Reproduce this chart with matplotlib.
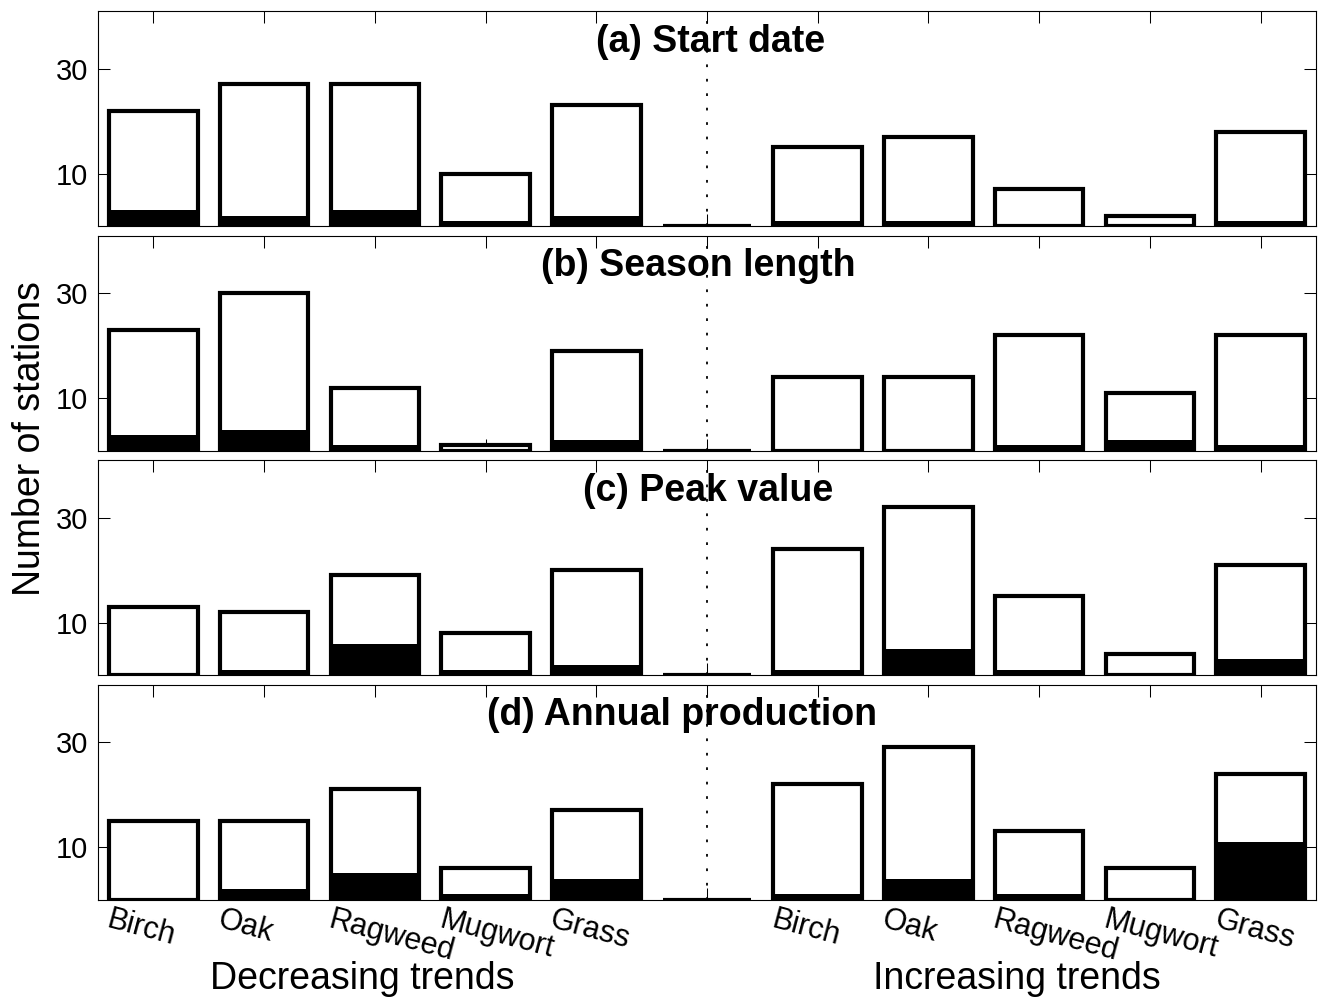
import matplotlib
matplotlib.use("Agg")
import matplotlib.pyplot as plt
import numpy as np

plt.rcParams['font.family'] = ['Liberation Sans', 'DejaVu Sans']

species = ['Birch', 'Oak', 'Ragweed', 'Mugwort', 'Grass']
panel_titles = ['(a) Start date', '(b) Season length', '(c) Peak value', '(d) Annual production']
group_labels = ['Decreasing trends', 'Increasing trends']
yticks = [10, 30]

# number of stations with a trend (total) and with a significant trend (black)
start_dec_total = [22, 27, 27, 10, 23]
start_dec_sig = [3, 2, 3, 1, 2]
start_inc_total = [15, 17, 7, 2, 18]
start_inc_sig = [1, 1, 0, 0, 1]

season_dec_total = [23, 30, 12, 1, 19]
season_dec_sig = [3, 4, 1, 0, 2]
season_inc_total = [14, 14, 22, 11, 22]
season_inc_sig = [0, 0, 1, 2, 1]

peak_dec_total = [13, 12, 19, 8, 20]
peak_dec_sig = [0, 1, 6, 1, 2]
peak_inc_total = [24, 32, 15, 4, 21]
peak_inc_sig = [1, 5, 1, 0, 3]

annual_dec_total = [15, 15, 21, 6, 17]
annual_dec_sig = [0, 2, 5, 1, 4]
annual_inc_total = [22, 29, 13, 6, 24]
annual_inc_sig = [1, 4, 1, 0, 11]

panels = [
    (start_dec_total, start_dec_sig, start_inc_total, start_inc_sig),
    (season_dec_total, season_dec_sig, season_inc_total, season_inc_sig),
    (peak_dec_total, peak_dec_sig, peak_inc_total, peak_inc_sig),
    (annual_dec_total, annual_dec_sig, annual_inc_total, annual_inc_sig),
]

# layout (pixel-derived)
W, H = 1323, 1000
left = 98 / W
width = (1316 - 98) / W
tops = [11, 235.5, 460, 684.5]
ph = 215
title_x = [711, 698, 708, 682]

fig = plt.figure(figsize=(W / 100, H / 100), dpi=100)

n = len(species)
x_all = np.arange(1, 2 * n + 2)  # 1..11, position 6 is the separator

for i, (dt, ds, it, isg) in enumerate(panels):
    bottom = 1 - (tops[i] + ph) / H
    ax = fig.add_axes([left, bottom, width, ph / H])
    totals = list(dt) + [0] + list(it)
    sigs = list(ds) + [0] + list(isg)
    ax.bar(x_all, totals, width=0.8, facecolor='white', edgecolor='black',
           linewidth=3, zorder=2)
    ax.bar(x_all, sigs, width=0.8, facecolor='black', edgecolor='none',
           linewidth=0, zorder=3)
    ax.axvline(n + 1, color='black', linewidth=1.3, linestyle=(0, (1.5, 6.5)), zorder=4)
    ax.set_xlim(0.5, 2 * n + 1.5)
    ax.set_ylim(0, 41)
    ax.set_axisbelow(True)
    ax.set_yticks(yticks)
    ax.set_yticklabels([str(v) for v in yticks], fontsize=21)
    ax.set_xticks(x_all)
    ax.set_xticklabels([])
    ax.tick_params(axis='both', direction='in', top=True, right=True,
                   length=8.5, width=0.75, pad=7)
    for s in ax.spines.values():
        s.set_linewidth(0.8)
    tx = 0.5 + (title_x[i] - 98) / 110.73
    ax.text(tx, 33.2, panel_titles[i], fontsize=27, fontweight='bold',
            ha='center', va='baseline', zorder=5)
    if i == 3:
        names = species + [''] + species
        for xp, name in zip(x_all, names):
            if name:
                ax.text(xp - 0.43, -0.13, name, transform=ax.get_xaxis_transform(),
                        rotation=-15, rotation_mode='anchor', ha='left',
                        va='baseline', fontsize=22)

fig.text(362 / W, 0.011, group_labels[0], fontsize=27, ha='center', va='baseline')
fig.text(1017 / W, 0.011, group_labels[1], fontsize=27, ha='center', va='baseline')
fig.text(30 / W, 1 - 439 / H, 'Number of stations', fontsize=27, rotation=90,
         ha='center', va='center')

fig.savefig('out.png', dpi=100)
